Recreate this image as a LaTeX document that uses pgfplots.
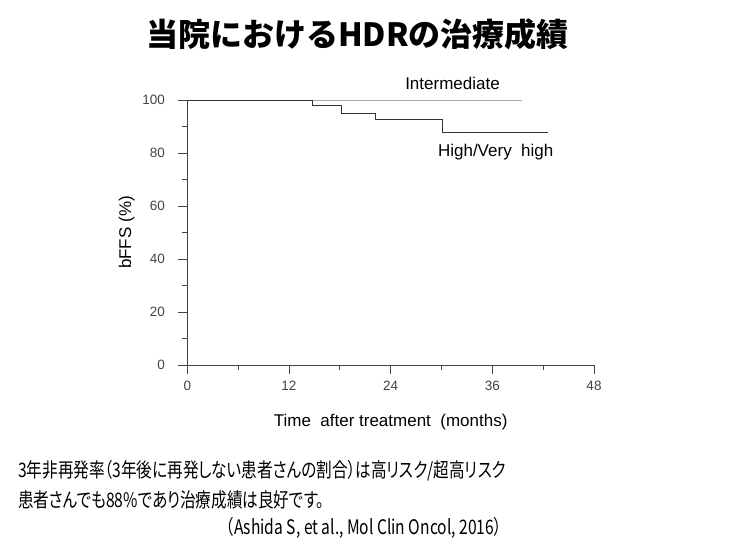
\documentclass[border=0pt]{standalone}
\usepackage{fontspec}
\usepackage{pgfplots}
\pgfplotsset{compat=1.18}
\setmainfont{Liberation Sans}
\newfontfamily\jptitle{Noto Sans CJK JP}
\newfontfamily\jpbody{Noto Sans CJK JP}[RawFeature=+palt, FakeStretch=0.78]

\definecolor{axisgray}{HTML}{444444}
\definecolor{intgray}{HTML}{AAAAAA}
\definecolor{curve}{HTML}{333333}

\begin{document}
\begin{tikzpicture}
\path[use as bounding box] (0,0) rectangle (730bp,550bp);

% title
\node[font={\jptitle\bfseries\fontsize{32bp}{36bp}\selectfont}] at (357.5bp,516bp)
  {当院におけるHDRの治療成績};

\begin{axis}[
  at={(187.3bp,185bp)}, anchor=south west,
  scale only axis, width=406.7bp, height=265bp,
  xmin=0, xmax=48, ymin=0, ymax=100,
  axis lines=left,
  axis line style={-, color=axisgray, line width=0.8pt},
  tick align=outside,
  tick style={color=axisgray, line width=0.8pt},
  major tick length=9bp, minor tick length=5bp,
  xtick={0,12,...,48}, minor xtick={6,18,30,42},
  ytick={0,20,...,100}, minor ytick={10,30,50,70,90},
  /pgf/number format/assume math mode=true,
  ticklabel style={font=\fontsize{13.5bp}{15bp}\selectfont, text=axisgray},
  xticklabel style={yshift=-4bp},
  yticklabel style={xshift=-10bp},
  xlabel={Time\ \ after treatment\ \ (months)},
  ylabel={bFFS (\%)},
  label style={font=\fontsize{17bp}{20bp}\selectfont},
  xlabel style={at={(axis description cs:0.5,0)}, anchor=center, yshift=-56.7bp},
  ylabel style={at={(axis description cs:0,0.5)}, anchor=center, yshift=60.6bp},
  clip=false,
]
\addplot[intgray, line width=0.8pt] coordinates {(0,100) (39.5,100)};
\addplot[curve, line width=0.9pt, const plot] coordinates {
  (0,100) (14.75,97.8) (18.2,95.0) (22.2,92.5) (30.1,87.9) (42.6,87.9)
};
\node[font=\fontsize{17bp}{20bp}\selectfont] at (axis cs:31.3,106.4) {Intermediate};
\node[font=\fontsize{17bp}{20bp}\selectfont] at (axis cs:36.4,80.4) {High/Very\ \ high};
\end{axis}

% note below the chart
\begin{scope}[every node/.style={font={\jpbody\fontsize{20bp}{24bp}\selectfont}, inner sep=0pt}]
\node[anchor=west] at (18bp,79bp) {3年非再発率（3年後に再発しない患者さんの割合）は高リスク/超高リスク};
\node[anchor=west] at (18bp,50bp) {患者さんでも88\%であり治療成績は良好です。};
\node[anchor=east] at (502bp,22bp) {（Ashida S, et al., Mol Clin Oncol, 2016）};
\end{scope}
\end{tikzpicture}
\end{document}
